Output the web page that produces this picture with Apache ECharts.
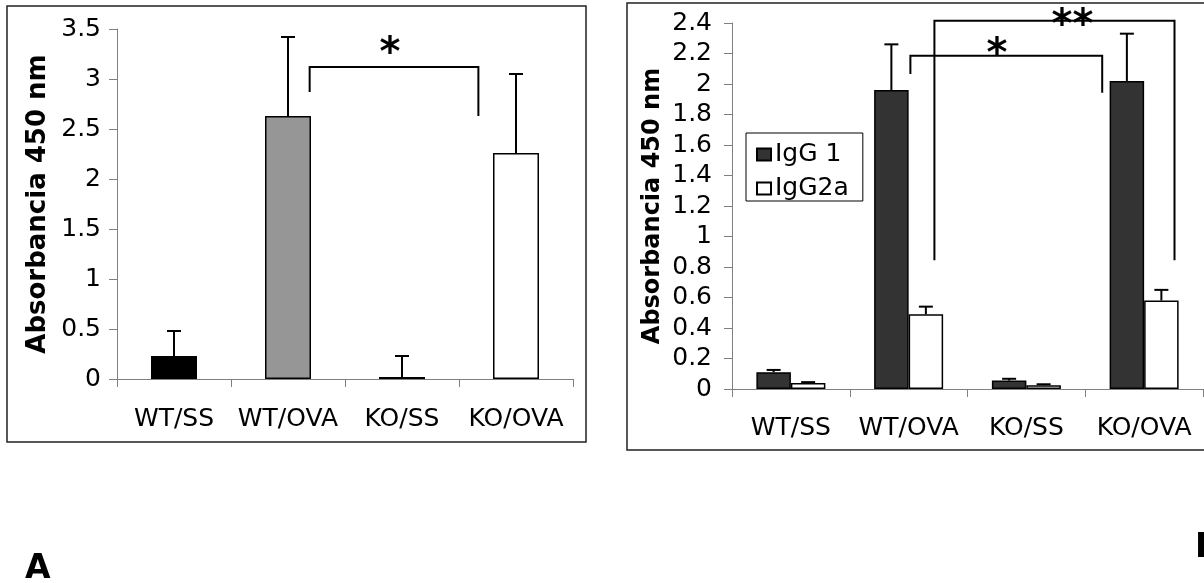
<!DOCTYPE html>
<html>
<head>
<meta charset="utf-8">
<title>Absorbancia 450 nm</title>
<script src="https://cdn.jsdelivr.net/npm/echarts@6/dist/echarts.min.js"></script>
<style>
  html, body { margin: 0; padding: 0; background: #ffffff; }
  #chart { width: 1204px; height: 583px; }
</style>
</head>
<body>
<div id="chart"></div>
<script>
// Panel A: total absorbance per group (mean + SD)
const groups = ['WT/SS', 'WT/OVA', 'KO/SS', 'KO/OVA'];
const totalMeans = [0.23, 2.63, 0.02, 2.26];
const totalErrors = [0.25, 0.79, 0.21, 0.79];
const totalColors = ['#000000', '#969696', '#000000', '#ffffff'];

// Panel B: IgG subclasses per group (mean + SD)
const igg1Means = [0.11, 1.96, 0.055, 2.02];
const igg1Errors = [0.015, 0.30, 0.012, 0.31];
const igg2aMeans = [0.04, 0.49, 0.025, 0.58];
const igg2aErrors = [0.005, 0.05, 0.006, 0.07];

// Axis ranges
const leftAxis = { min: 0, max: 3.5, interval: 0.5 };
const rightAxis = { min: 0, max: 2.4, interval: 0.2 };

// Significance brackets: positions in category units (index + fraction of band), heights in data units
const leftBrackets = [
  { from: 1.19, to: 2.67, top: 3.12, fromEnd: 2.87, toEnd: 2.63, mark: '*', markAt: 1.895, markValue: 3.31 }
];
const rightBrackets = [
  { from: 1.015, to: 2.644, top: 2.185, fromEnd: 2.065, toEnd: 1.943, mark: '*', markAt: 1.751, markValue: 2.23 },
  { from: 1.219, to: 3.258, top: 2.414, fromEnd: 0.845, toEnd: 0.845, mark: '**', markAt: 2.392, markValue: 2.423 }
];

const FONT = 'DejaVu Sans';
const AXIS_GREY = '#808080';
const SINGLE_BAR_WIDTH = 46;
const PAIR_BAR_WIDTH = 34.5;

function errorBarRenderer(means, errors, offset) {
  return function (params, api) {
    const i = params.dataIndex;
    const base = api.coord([i, means[i]]);
    const top = api.coord([i, means[i] + errors[i]]);
    const x = base[0] + offset;
    const cap = 7;
    return {
      type: 'group',
      children: [
        { type: 'line', shape: { x1: x, y1: base[1], x2: x, y2: top[1] }, style: { stroke: '#000', lineWidth: 2 } },
        { type: 'line', shape: { x1: x - cap, y1: top[1], x2: x + cap, y2: top[1] }, style: { stroke: '#000', lineWidth: 2 } }
      ]
    };
  };
}

function bracketRenderer(list) {
  return function (params, api) {
    const b = list[params.dataIndex];
    const band = api.size([1, 0])[0];
    const px = function (pos, v) {
      const k = Math.floor(pos);
      const p = api.coord([k, v]);
      return [p[0] + (pos - k) * band, p[1]];
    };
    const a0 = px(b.from, b.fromEnd);
    const a1 = px(b.from, b.top);
    const c1 = px(b.to, b.top);
    const c0 = px(b.to, b.toEnd);
    const m = px(b.markAt, b.markValue);
    return {
      type: 'group',
      children: [
        { type: 'polyline', shape: { points: [a0, a1, c1, c0] }, style: { stroke: '#000', lineWidth: 2, fill: null } },
        { type: 'text', style: { text: b.mark, x: m[0], y: m[1] + 7, fill: '#000', font: 'bold 40px "' + FONT + '"', align: 'center', verticalAlign: 'middle' } }
      ]
    };
  };
}

function categoryAxis(gridIndex, margin) {
  return {
    type: 'category', gridIndex: gridIndex, data: groups,
    axisLine: { show: true, lineStyle: { color: AXIS_GREY, width: 1 } },
    axisTick: { show: true, length: 8, lineStyle: { color: AXIS_GREY } },
    axisLabel: { color: '#000', fontFamily: FONT, fontSize: 25, margin: margin, interval: 0 },
    splitLine: { show: false }
  };
}

function valueAxis(gridIndex, range, margin, nameSize, nameGap) {
  return {
    type: 'value', gridIndex: gridIndex,
    min: range.min, max: range.max, interval: range.interval,
    name: 'Absorbancia 450 nm', nameLocation: 'middle', nameGap: nameGap,
    nameTextStyle: { color: '#000', fontFamily: FONT, fontWeight: 'bold', fontSize: nameSize },
    axisLine: { show: true, lineStyle: { color: AXIS_GREY, width: 1 } },
    axisTick: { show: true, length: 8, lineStyle: { color: AXIS_GREY } },
    axisLabel: { color: '#000', fontFamily: FONT, fontSize: 25, margin: margin },
    splitLine: { show: false }
  };
}

const chart = echarts.init(document.getElementById('chart'), null, { renderer: 'canvas' });

chart.setOption({
  animation: false,
  backgroundColor: '#ffffff',
  grid: [
    { left: 117, top: 29, width: 456, height: 350 },
    { left: 732, top: 23, width: 471, height: 366 }
  ],
  xAxis: [categoryAxis(0, 28), categoryAxis(1, 27)],
  yAxis: [
    valueAxis(0, leftAxis, 16, 26, 66),
    valueAxis(1, rightAxis, 20, 24, 67)
  ],
  legend: {
    data: ['IgG 1', 'IgG2a'],
    orient: 'vertical',
    left: 746, top: 133,
    padding: [9, 14, 0, 10],
    itemWidth: 14, itemHeight: 12, itemGap: 9,
    borderColor: '#000', borderWidth: 1,
    icon: 'rect',
    textStyle: { color: '#000', fontFamily: FONT, fontSize: 25, padding: [0, 0, 0, -1] },
    selectedMode: false
  },
  series: [
    {
      name: 'Total', type: 'bar', xAxisIndex: 0, yAxisIndex: 0,
      barWidth: SINGLE_BAR_WIDTH,
      data: totalMeans.map(function (v, i) {
        return { value: v, itemStyle: { color: totalColors[i] } };
      }),
      itemStyle: { borderColor: '#000', borderWidth: 1.5 }
    },
    {
      type: 'custom', xAxisIndex: 0, yAxisIndex: 0, z: 5,
      renderItem: errorBarRenderer(totalMeans, totalErrors, 0),
      data: totalMeans.map(function (v, i) { return [i, v + totalErrors[i]]; })
    },
    {
      name: 'IgG 1', type: 'bar', xAxisIndex: 1, yAxisIndex: 1,
      barWidth: PAIR_BAR_WIDTH, barGap: '0%',
      data: igg1Means,
      itemStyle: { color: '#333333', borderColor: '#000', borderWidth: 1.5 }
    },
    {
      name: 'IgG2a', type: 'bar', xAxisIndex: 1, yAxisIndex: 1,
      barWidth: PAIR_BAR_WIDTH, barGap: '0%',
      data: igg2aMeans,
      itemStyle: { color: '#ffffff', borderColor: '#000', borderWidth: 1.5 }
    },
    {
      type: 'custom', xAxisIndex: 1, yAxisIndex: 1, z: 5,
      renderItem: errorBarRenderer(igg1Means, igg1Errors, -PAIR_BAR_WIDTH / 2),
      data: igg1Means.map(function (v, i) { return [i, v + igg1Errors[i]]; })
    },
    {
      type: 'custom', xAxisIndex: 1, yAxisIndex: 1, z: 5,
      renderItem: errorBarRenderer(igg2aMeans, igg2aErrors, PAIR_BAR_WIDTH / 2),
      data: igg2aMeans.map(function (v, i) { return [i, v + igg2aErrors[i]]; })
    },
    {
      type: 'custom', xAxisIndex: 0, yAxisIndex: 0, z: 6, clip: false, silent: true,
      renderItem: bracketRenderer(leftBrackets),
      data: leftBrackets.map(function (b) { return [0, b.top]; })
    },
    {
      type: 'custom', xAxisIndex: 1, yAxisIndex: 1, z: 6, clip: false, silent: true,
      renderItem: bracketRenderer(rightBrackets),
      data: rightBrackets.map(function (b) { return [0, Math.min(b.top, rightAxis.max)]; })
    }
  ],
  graphic: [
    // panel frames
    { type: 'rect', shape: { x: 7, y: 6, width: 579, height: 436 }, style: { fill: null, stroke: '#222', lineWidth: 1.5 }, silent: true },
    { type: 'rect', shape: { x: 627, y: 3, width: 600, height: 447 }, style: { fill: null, stroke: '#222', lineWidth: 1.5 }, silent: true },
    // panel letters
    { type: 'text', style: { text: 'A', x: 25, y: 569, fill: '#000', font: 'bold 33px "' + FONT + '"', align: 'left', verticalAlign: 'middle' }, silent: true },
    { type: 'text', style: { text: 'B', x: 1195, y: 548, fill: '#000', font: 'bold 33px "' + FONT + '"', align: 'left', verticalAlign: 'middle' }, silent: true }
  ]
});
</script>
</body>
</html>
